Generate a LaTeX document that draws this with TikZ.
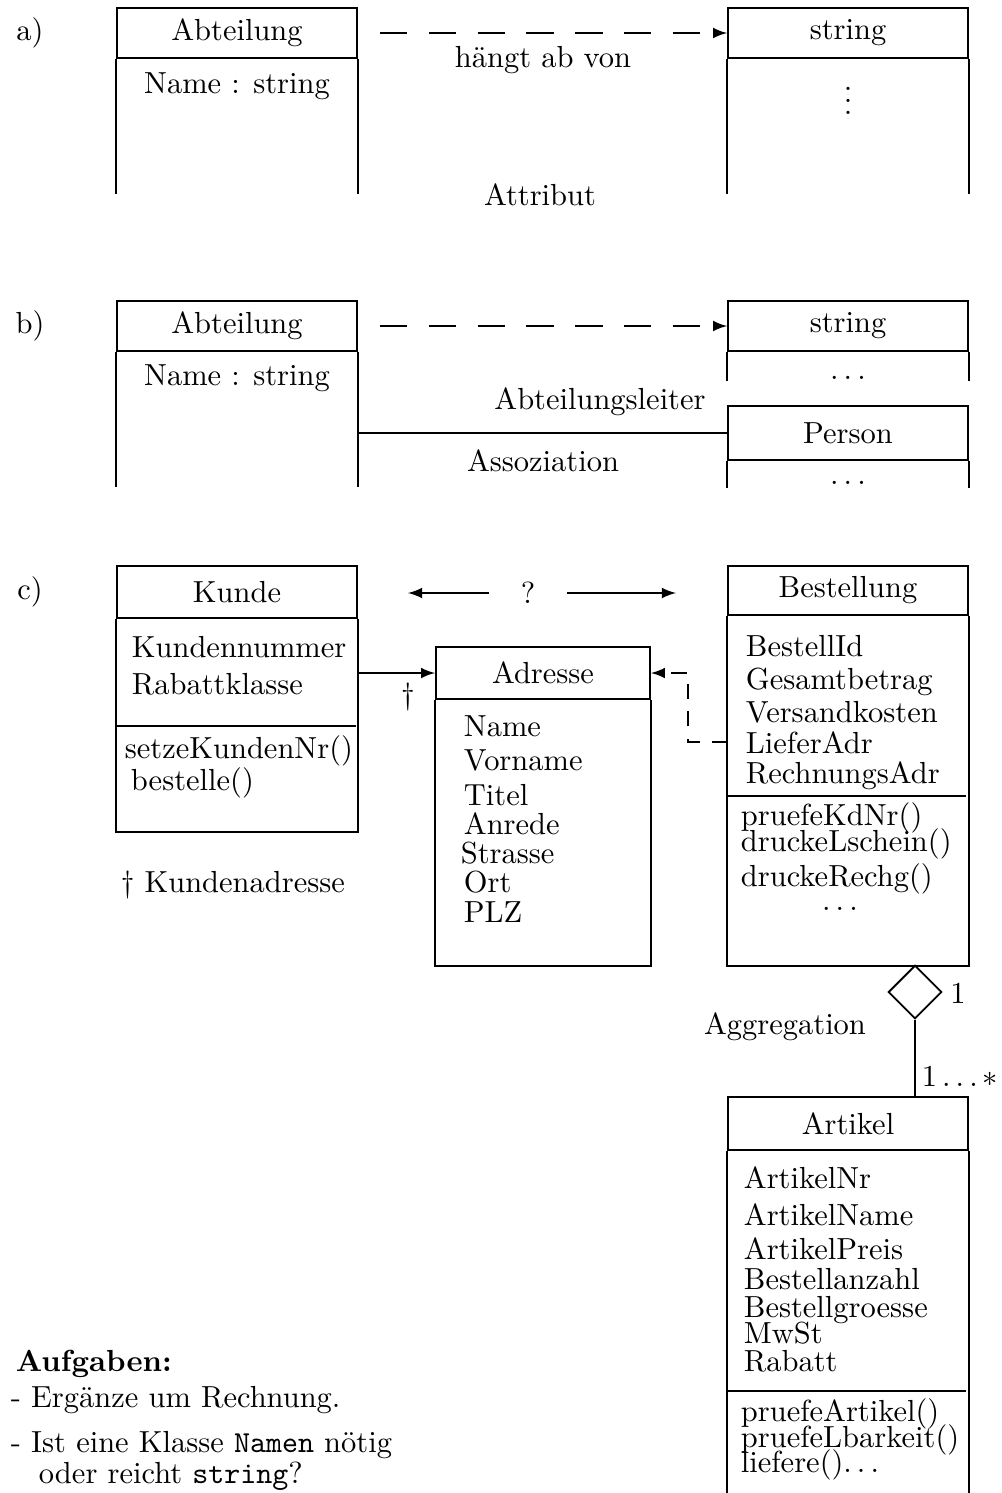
\documentclass[tikz,border=0pt]{standalone}
\usepackage{fontspec}
\usetikzlibrary{shapes.geometric}

\begin{document}
\begin{tikzpicture}[x=0.328pt,y=-0.328pt,line width=0.6pt,>=latex,
  head/.style={draw,minimum width=78.7pt,minimum height=16.4pt,inner sep=0pt},
  txt/.style={inner sep=0pt},
  item/.style={anchor=base west,inner sep=0pt},
  dep/.style={->,dash pattern=on 9pt off 7pt}]
\useasboundingbox (0,0) rectangle (1002,1493);
%
% a) Attribut
\node[txt] (la) at (30,33) {a)};
\node[head] (abtA) at (237,33) {Abteilung};
\draw (abtA.south west) -- ++(0,135) (abtA.south east) -- ++(0,135);
\node[txt] (abtAn) at (237,86) {Name : string};
\node[head] (strA) at (848,33) {string};
\draw (strA.south west) -- ++(0,135) (strA.south east) -- ++(0,135);
\node[txt] (strAd) at (848,92) {$\vdots$};
\coordinate (depA) at (380,33);
\draw[dep] (depA) -- (strA.west);
\node[txt] (hab) at (543,60) {hängt ab von};
\node[txt] (att) at (540,195) {Attribut};
%
% b) Assoziation
\node[txt] (lb) at (30,326) {b)};
\node[head] (abtB) at (237,326) {Abteilung};
\draw (abtB.south west) -- ++(0,135) (abtB.south east) -- ++(0,135);
\node[txt] (abtBn) at (237,378) {Name : string};
\node[head] (strB) at (848,326) {string};
\draw (strB.south west) -- ++(0,29) (strB.south east) -- ++(0,29);
\node[txt] (strBd) at (848,378) {$\ldots$};
\node[head,minimum height=17.7pt] (per) at (848,433) {Person};
\draw (per.south west) -- ++(0,27) (per.south east) -- ++(0,27);
\node[txt] (perd) at (848,483) {$\ldots$};
\coordinate (depB) at (380,326);
\draw[dep] (depB) -- (strB.west);
\draw (abtB.east |- per.west) -- (per.west);
\node[txt] (ltr) at (600,402) {Abteilungsleiter};
\node[txt] (aso) at (543,461) {Assoziation};
%
% c) Bestellung
\node[txt] (lc) at (30,592) {c)};
\node[head,minimum height=17pt] (kun) at (237,592) {Kunde};
\draw (kun.south west) -- ++(0,213) -| (kun.south east);
\draw (kun.south west) ++(0,107) -- ++(240,0);
\foreach \t/\x/\y [count=\i] in {Kundennummer/131/657, Rabattklasse/131/694,
    setzeKundenNr()/124/758, bestelle()/130/790}
  \node[item] (ku\i) at (\x,\y) {\t};
\node[item] (fn) at (120,892) {\dag\ Kundenadresse};
%
\node[txt,minimum width=25.3pt] (q) at (528,593) {?};
\coordinate (ql) at (408,593);
\coordinate (qr) at (676,593);
\draw[->] (q.west) -- (ql);
\draw[->] (q.east) -- (qr);
%
\node[head,minimum width=70.2pt,minimum height=17pt] (adr) at (543,673) {Adresse};
\draw (adr.south west) -- ++(0,266) -| (adr.south east);
\foreach \t/\x/\y [count=\i] in {Name/463/736, Vorname/463/770, Titel/463/805,
    Anrede/463/834, Strasse/460/863, Ort/463/892, PLZ/463/922}
  \node[item] (ad\i) at (\x,\y) {\t};
\draw[->] (kun.east |- adr.west) -- (adr.west);
\node[txt] (dg) at (408,697) {\dag};
%
\node[head,minimum height=16pt] (bst) at (848,590.5) {Bestellung};
\draw (bst.south west) -- ++(0,350) -| (bst.south east);
\draw (bst.south west) ++(0,180) -- ++(239,0);
\foreach \t/\y [count=\i] in {BestellId/656, Gesamtbetrag/689, Versandkosten/722,
    LieferAdr/753, RechnungsAdr/783}
  \node[item] (be\i) at (745,\y) {\t};
\foreach \t/\y [count=\i] in {pruefeKdNr()/825, druckeLschein()/851, druckeRechg()/886}
  \node[item] (bm\i) at (740,\y) {\t};
\node[anchor=base,inner sep=0pt] (bmd) at (840,910) {$\ldots$};
\draw[->,dash pattern=on 5pt off 4pt] (bst.west |- be4.west) -- ++(-39,0) |- (adr.east);
%
\node[draw,diamond,aspect=1,minimum size=17.5pt,inner sep=0pt] (agg) at (915,992) {};
\node[txt] (one) at (958,993) {1};
\node[txt] (agl) at (785,1027) {Aggregation};
\node[txt] (mul) at (960,1077) {$1\ldots*$};
%
\node[head,minimum height=17.4pt] (art) at (848,1123.5) {Artikel};
\draw (art.south west) -- ++(0,343) (art.south east) -- ++(0,343);
\draw (art.south west) ++(0,240) -- ++(239,0);
\draw (agg.south) -- (agg.south |- art.north);
\foreach \t/\y [count=\i] in {ArtikelNr/1188, ArtikelName/1225, ArtikelPreis/1259,
    Bestellanzahl/1289, Bestellgroesse/1317, MwSt/1343, Rabatt/1371}
  \node[item] (ar\i) at (743,\y) {\t};
\foreach \t/\y [count=\i] in {pruefeArtikel()/1421, pruefeLbarkeit()/1447,
    liefere()$\ldots$/1472}
  \node[item] (am\i) at (740,\y) {\t};
%
% Aufgaben
\node[item] (auf) at (15,1371) {\textbf{Aufgaben:}};
\node[item] (au1) at (10,1407) {- Ergänze um Rechnung.};
\node[item] (au2) at (10,1452) {- Ist eine Klasse \texttt{Namen} nötig};
\node[item] (au3) at (38,1483) {oder reicht \texttt{string}?};
\end{tikzpicture}
\end{document}
